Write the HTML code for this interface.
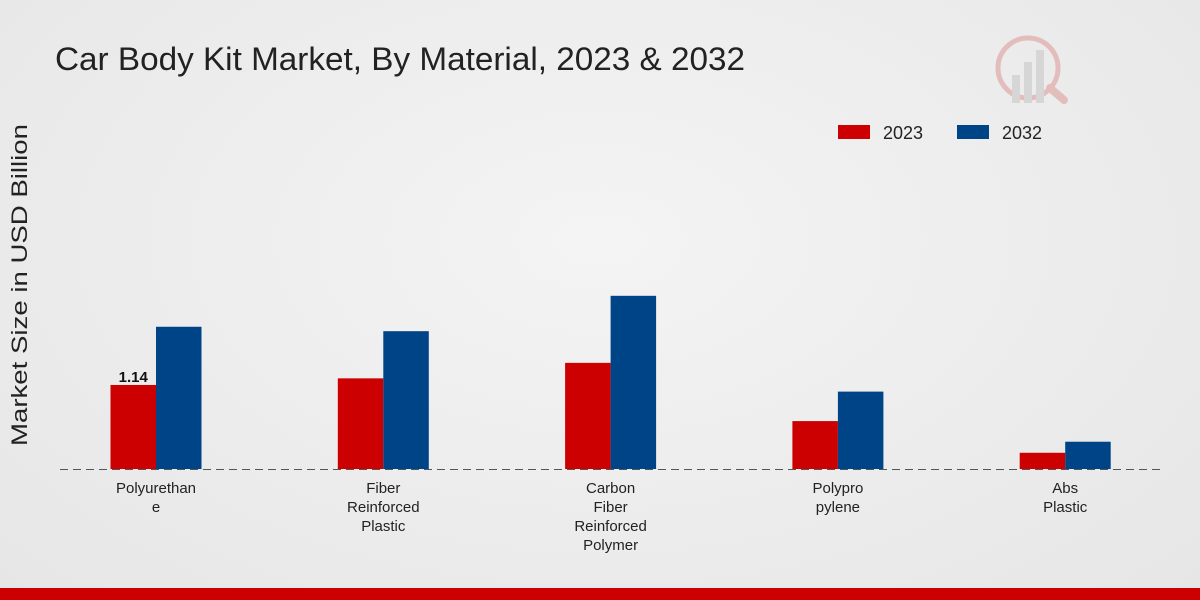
<!DOCTYPE html>
<html><head><meta charset="utf-8"><style>
html,body{margin:0;padding:0;width:1200px;height:600px;overflow:hidden}
body{background:radial-gradient(ellipse at 50% 40%,#f4f4f4 0%,#e6e6e6 100%);font-family:"Liberation Sans",sans-serif}
</style></head><body>
<svg id="chart" width="1200" height="600" xmlns="http://www.w3.org/2000/svg" font-family="Liberation Sans, sans-serif">
<text x="55" y="70" font-size="32" fill="#222" textLength="690" lengthAdjust="spacingAndGlyphs">Car Body Kit Market, By Material, 2023 &amp; 2032</text>
<text transform="translate(27,285) rotate(-90)" text-anchor="middle" font-size="22" fill="#222" textLength="322" lengthAdjust="spacingAndGlyphs">Market Size in USD Billion</text>
<g>
<rect x="838" y="125" width="32" height="14" fill="#cc0000"/>
<text x="883" y="139" font-size="18" fill="#222">2023</text>
<rect x="957" y="125" width="32" height="14" fill="#004488"/>
<text x="1002" y="139" font-size="18" fill="#222">2032</text>
</g>
<g id="bars"></g>
<line x1="60" y1="469.5" x2="1160" y2="469.5" stroke="#555" stroke-dasharray="8,5" stroke-width="1"/>
<g opacity="0.25">
<circle cx="1028" cy="68" r="30" fill="none" stroke="#c33" stroke-width="5"/>
<rect x="1012" y="75" width="8" height="28" fill="#999"/><rect x="1024" y="62" width="8" height="41" fill="#999"/><rect x="1036" y="50" width="8" height="53" fill="#999"/>
<line x1="1050" y1="88" x2="1064" y2="100" stroke="#c33" stroke-width="8" stroke-linecap="round"/>
</g>
<rect x="0" y="588" width="1200" height="12" fill="#cc0000"/>
</svg>
<script>
const categories=[["Polyurethan","e"],["Fiber","Reinforced","Plastic"],["Carbon","Fiber","Reinforced","Polymer"],["Polypro","pylene"],["Abs","Plastic"]];
const values2023=[1.14,1.23,1.44,0.65,0.22];
const values2032=[1.93,1.87,2.35,1.05,0.37];
const baseY=469, pxPerUnit=73.7, x0=156, step=227.3, bw=45.5;
const yS=v=>baseY-v*pxPerUnit;
const xC=i=>x0+i*step;
const g=document.getElementById('bars');
const NS="http://www.w3.org/2000/svg";
categories.forEach((c,i)=>{
 [[values2023,'#cc0000',-bw,'2023'],[values2032,'#004488',0,'2032']].forEach(([arr,col,off,yr])=>{
  const r=document.createElementNS(NS,'rect');
  r.setAttribute('x',xC(i)+off);r.setAttribute('y',yS(arr[i]));
  r.setAttribute('width',bw);r.setAttribute('height',baseY-yS(arr[i]));r.setAttribute('fill',col);
  
  
  g.appendChild(r);
 });
 c.forEach((ln,j)=>{
  const t=document.createElementNS(NS,'text');
  t.setAttribute('x',xC(i));t.setAttribute('y',493+j*19);t.setAttribute('text-anchor','middle');
  t.setAttribute('font-size','15');t.setAttribute('fill','#222');t.textContent=ln;
  
  
  g.appendChild(t);
 });
});
const lab=document.createElementNS(NS,'text');
lab.setAttribute('x',xC(0)-bw/2);lab.setAttribute('y',yS(values2023[0])-3);lab.setAttribute('text-anchor','middle');
lab.setAttribute('font-size','15');lab.setAttribute('font-weight','bold');lab.setAttribute('fill','#111');
lab.textContent=values2023[0].toFixed(2);


g.appendChild(lab);
</script>
</body></html>
